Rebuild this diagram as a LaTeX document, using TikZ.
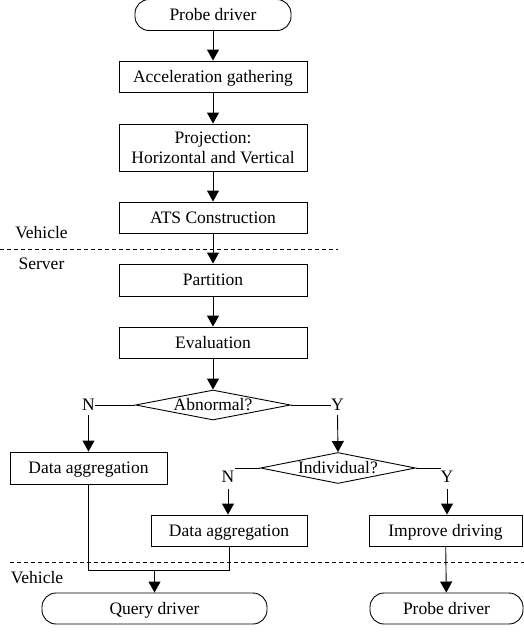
\documentclass[tikz,border=0pt]{standalone}
\usepackage{fontspec}
\setmainfont{Liberation Serif}
\usetikzlibrary{arrows.meta,shapes.geometric}
\begin{document}
\begin{tikzpicture}[x=1pt,y=-1pt,
  every node/.style={font=\fontsize{17.5}{20}\selectfont, inner sep=0pt},
  txt/.style={text height=11.6pt, text depth=0pt},
  box/.style={draw, line width=0.9pt, rectangle, minimum height=31pt, align=center},
  proc/.style={box, txt},
  term/.style={draw, line width=0.9pt, rectangle, rounded corners=14pt, minimum height=31pt, txt},
  dec/.style={draw, line width=0.9pt, diamond, minimum width=155pt, minimum height=30pt},
  lbl/.style={txt},
  conn/.style={line width=0.9pt},
  arr/.style={line width=0.9pt, -{Triangle[width=12pt,length=11pt]}},
  sep/.style={line width=0.8pt, dash pattern=on 4pt off 3pt}
]
\useasboundingbox (0,0) rectangle (524,632);

\node[term, minimum width=156pt] (p1) at (213,15) {Probe driver};
\node[proc, minimum width=188pt] (acc) at (213,76.5) {Acceleration gathering};
\node[box, minimum width=188pt, minimum height=47pt] (proj) at (213,147.5) {Projection:\\Horizontal and Vertical};
\node[proc, minimum width=188pt] (ats) at (213,217.5) {ATS Construction};
\node[proc, minimum width=188pt, minimum height=32pt] (part) at (213,280) {Partition};
\node[proc, minimum width=188pt] (eval) at (213,342.5) {Evaluation};
\node[dec, label={[txt]center:Abnormal?}] (abn) at (213,405) {};
\node[lbl] (n1) at (88.5,405) {N};
\node[lbl] (y1) at (337.5,405) {Y};
\node[proc, minimum width=157pt, minimum height=32pt] (da1) at (88.5,468) {Data aggregation};
\node[dec, minimum height=31pt, label={[txt]center:Individual?}] (ind) at (338,468) {};
\node[lbl] (n2) at (228,477) {N};
\node[lbl] (y2) at (447,477) {Y};
\coordinate (n2e) at (235,468);
\coordinate (y2e) at (441,468);
\node[proc, minimum width=156pt] (da2) at (229,530.5) {Data aggregation};
\node[proc, minimum width=153pt] (imp) at (445.5,530.5) {Improve driving};
\node[term, minimum width=225pt] (qd) at (154.5,608.5) {Query driver};
\node[term, minimum width=153pt] (p2) at (446.5,608.5) {Probe driver};

\node[txt] (veh1) at (41.5,233) {Vehicle};
\node[txt] (srv) at (41.5,264) {Server};
\node[txt] (veh2) at (37,578) {Vehicle};
\coordinate (s1a) at (0,249);
\coordinate (s1b) at (338,249);
\coordinate (s2a) at (10,562);
\coordinate (s2b) at (524,562);
\draw[sep] (s1a) -- (s1b);
\draw[sep] (s2a) -- (s2b);

\draw[arr] (p1) -- (acc);
\draw[arr] (acc) -- (proj);
\draw[arr] (proj) -- (ats);
\draw[arr] (ats) -- (part);
\draw[arr] (part) -- (eval);
\draw[arr] (eval) -- (abn.north);
\draw[conn] (abn.west) -- (n1.east);
\draw[conn] (abn.east) -- (y1.west);
\draw[arr] ([yshift=-4pt]n1.south) -- (da1.north);
\draw[arr] ([yshift=-4pt]y1.south) -- (ind.north);
\draw[conn] (ind.west) -- (n2e);
\draw[conn] (ind.east) -- (y2e);
\draw[arr] ([yshift=-6pt]n2.south) -- (n2.south |- da2.north);
\draw[arr] ([yshift=-6pt]y2.south) -- (y2.south |- imp.north);
\coordinate (j1) at (88.5,570);
\coordinate (j2) at (229,570);
\coordinate (jq) at (154.5,570);
\draw[conn] (da1.south) -- (j1) -- (j2) -- (da2.south);
\draw[arr] (jq) -- (qd.north);
\draw[arr] (imp) -- (p2);
\end{tikzpicture}
\end{document}
